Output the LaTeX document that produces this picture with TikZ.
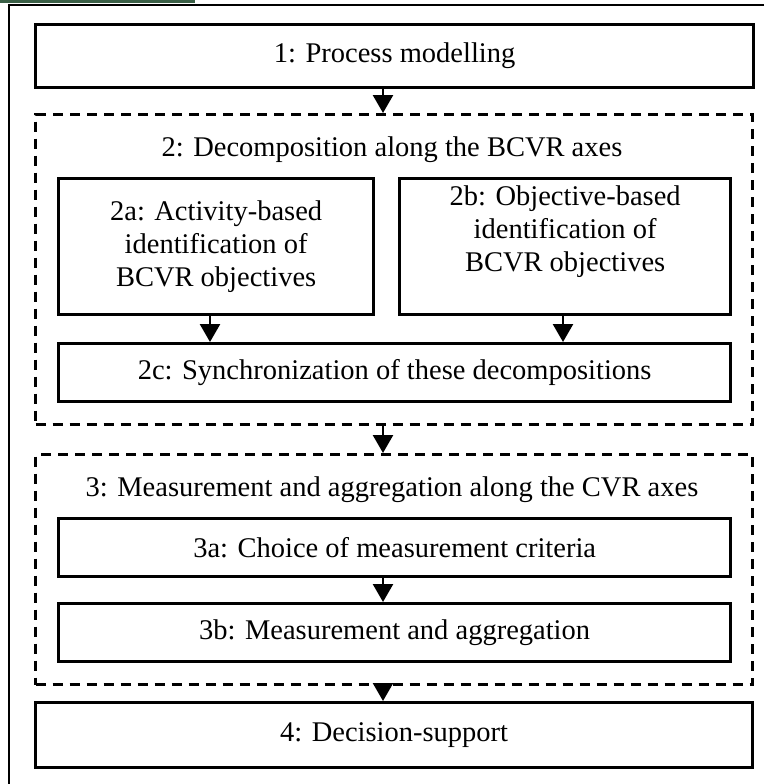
\documentclass[tikz,border=0pt]{standalone}
\usepackage{fontspec}
\setmainfont{Liberation Serif}
\usetikzlibrary{arrows.meta}
\begin{document}
\begin{tikzpicture}[x=1pt,y=-1pt,
  stagebox/.style={draw, line width=3.3pt, rectangle, anchor=north west,
    inner sep=0pt, align=center, font=\fontsize{28.5}{33}\selectfont},
  groupbox/.style={draw, line width=3pt, dash pattern=on 10pt off 7pt,
    rectangle, anchor=north west, inner sep=0pt},
  grouplabel/.style={font=\fontsize{28.5}{33}\selectfont},
  flow/.style={line width=2.6pt, -{Triangle[length=18pt,width=20pt]}}]
\useasboundingbox (0,0) rectangle (764,784);
% page frame and header strip
\fill[fill={rgb,255:red,58;green,95;blue,70}] (0,0) rectangle (195,3.5);
\draw[line width=2.7pt] (764,5) -- (9,5) -- (9,784);
% stage 1
\node[stagebox, minimum width=718pt, minimum height=63pt] (s1) at (34,23) {1: Process modelling};
% group 2
\node[groupbox, minimum width=717pt, minimum height=310pt] (g2) at (34,113) {};
\node[grouplabel] (g2t) at (392,150) {2: Decomposition along the BCVR axes};
\node[stagebox, minimum width=315pt, minimum height=136pt] (s2a) at (57,177)
  {2a: Activity-based\\identification of\\BCVR objectives};
\node[stagebox, minimum width=331pt, minimum height=136pt] (s2b) at (398,177)
  {2b: Objective-based\\identification of\\BCVR objectives\\[4pt]};
\node[stagebox, minimum width=672pt, minimum height=58pt] (s2c) at (57,342)
  {2c: Synchronization of these decompositions};
% group 3
\node[groupbox, minimum width=717pt, minimum height=230pt] (g3) at (34,453) {};
\node[grouplabel] (g3t) at (392,490) {3: Measurement and aggregation along the CVR axes};
\node[stagebox, minimum width=672pt, minimum height=58pt] (s3a) at (57,517)
  {3a: Choice of measurement criteria};
\node[stagebox, minimum width=672pt, minimum height=58pt] (s3b) at (57,602)
  {3b: Measurement and aggregation};
% stage 4
\node[stagebox, minimum width=717pt, minimum height=65pt] (s4) at (34,701) {4: Decision-support};
% connectors
\draw[flow] (s1.south -| 383,0) -- (g2.north -| 383,0);
\draw[flow] (s2a.south -| 210,0) -- (s2c.north -| 210,0);
\draw[flow] (s2b.south -| 563,0) -- (s2c.north -| 563,0);
\draw[flow] (g2.south -| 383,0) -- (g3.north -| 383,0);
\draw[flow] (s3a.south -| 383,0) -- (s3b.north -| 383,0);
\draw[flow] (g3.south -| 383,0) -- (s4.north -| 383,0);
\end{tikzpicture}
\end{document}
